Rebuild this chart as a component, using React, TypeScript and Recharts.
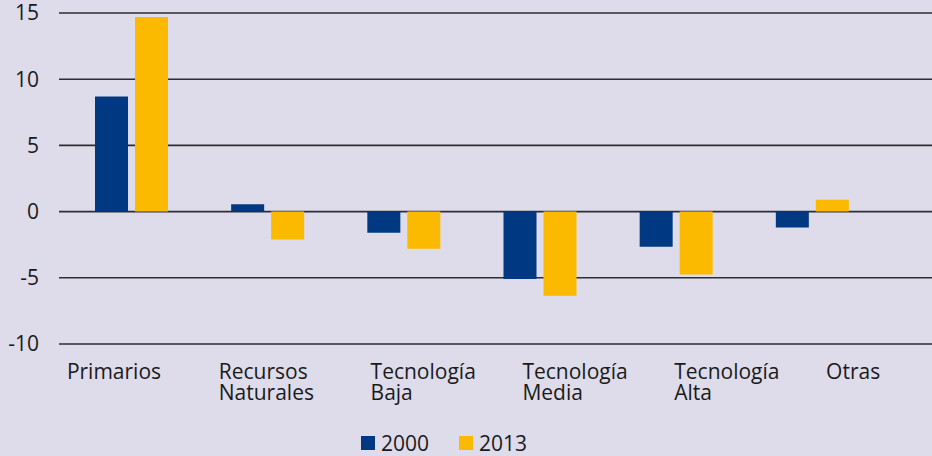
import { BarChart, Bar, XAxis, YAxis, CartesianGrid, Legend } from 'recharts';

const categories = ['Primarios', 'Recursos Naturales', 'Tecnología Baja', 'Tecnología Media', 'Tecnología Alta', 'Otras'];
const labelLines = [['Primarios'], ['Recursos', 'Naturales'], ['Tecnología', 'Baja'], ['Tecnología', 'Media'], ['Tecnología', 'Alta'], ['Otras']];
const values2000 = [8.7, 0.55, -1.6, -5.1, -2.65, -1.2];
const values2013 = [14.7, -2.1, -2.8, -6.35, -4.75, 0.9];
const yTicks = [-10, -5, 0, 5, 10, 15];

const BLUE = '#003882';
const YELLOW = '#fbb900';
const FONT = '"Open Sans", sans-serif';

const data = categories.map((c, i) => ({
  name: c,
  y2000: values2000[i],
  y2013: values2013[i],
}));

function CategoryTick(props: any) {
  const { x, y, payload, index } = props;
  const lines = labelLines[index] ?? [payload.value];
  return (
    <text x={x - 76} y={y} textAnchor="start" fontFamily={FONT} fontSize={21} fill="#1a1a1a">
      {lines.map((l, i) => (
        <tspan key={i} x={x - 76} dy={i === 0 ? 5 : 21}>
          {l}
        </tspan>
      ))}
    </text>
  );
}

function LegendContent() {
  const items = [
    { label: '2000', color: BLUE },
    { label: '2013', color: YELLOW },
  ];
  return (
    <div style={{ display: 'flex', alignItems: 'center', marginLeft: 361, height: 30, position: 'relative', top: 2, fontFamily: FONT, fontSize: 21, color: '#1a1a1a' }}>
      {items.map((it) => (
        <div key={it.label} style={{ display: 'flex', alignItems: 'center', marginRight: 30 }}>
          <span style={{ width: 14, height: 14, background: it.color, display: 'inline-block', marginRight: 6 }} />
          <span>{it.label}</span>
        </div>
      ))}
    </div>
  );
}

export default function App() {
  return (
    <div style={{ position: 'absolute', left: 0, top: 0, width: 932, height: 456, background: '#dedcea' }}>
      <BarChart
        width={932}
        height={456}
        data={data}
        margin={{ top: 13, right: 0, left: 0, bottom: 0 }}
        barSize={33}
        barGap={7}
      >
        <CartesianGrid xAxisId="bars" vertical={false} stroke="#2d2d35" strokeWidth={1.6} />
        <XAxis
          xAxisId="labels"
          dataKey="name"
          height={82}
          axisLine={false}
          tickLine={false}
          tickSize={0}
          tickMargin={0}
          interval={0}
          padding={{ left: 8, right: -46 }}
          tick={<CategoryTick />}
        />
        <XAxis xAxisId="bars" dataKey="name" hide padding={{ left: 4, right: 52 }} />
        <YAxis
          width={59}
          domain={[-10, 15]}
          ticks={yTicks}
          axisLine={false}
          tickLine={false}
          tickSize={0}
          tickMargin={20}
          tick={{ fontFamily: FONT, fontSize: 21, fill: '#1a1a1a' }}
        />
        <Legend verticalAlign="bottom" content={<LegendContent />} />
        <Bar xAxisId="bars" dataKey="y2000" name="2000" fill={BLUE} isAnimationActive={false} />
        <Bar xAxisId="bars" dataKey="y2013" name="2013" fill={YELLOW} isAnimationActive={false} />
      </BarChart>
    </div>
  );
}
